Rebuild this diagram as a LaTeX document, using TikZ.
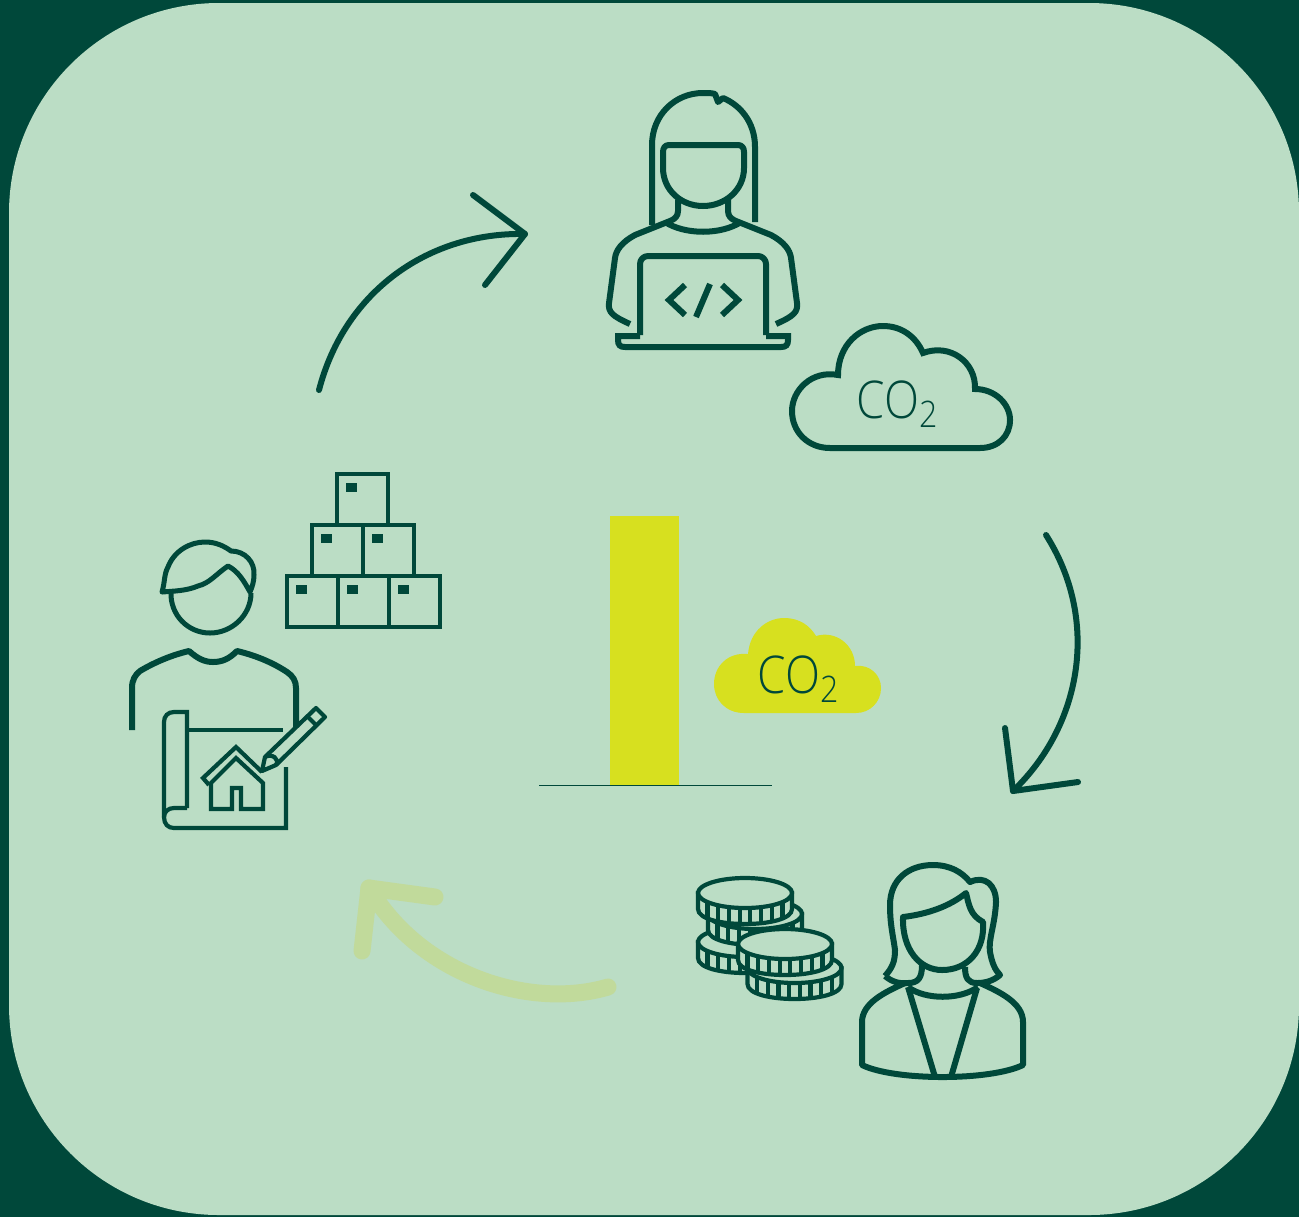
\documentclass[tikz,border=0pt]{standalone}
\usepackage{fontspec}
\usepackage{graphicx}
\usepackage{xcolor}
\usepackage{tikz}
\newfontfamily\lightfont{Open Sans Light}
\definecolor{pine}{HTML}{00483A}
\definecolor{mint}{HTML}{BBDDC5}
\definecolor{lime}{HTML}{D7E01F}
\definecolor{pale}{HTML}{C1DA9B}
\tikzstyle{thickicon}=[draw=pine, line width=0.6mm, line join=round]
\tikzstyle{thinicon}=[draw=pine, line width=0.42mm, line join=miter]
\tikzstyle{flowline}=[draw=pine, line width=0.6mm, line cap=round, line join=round]
\tikzstyle{colabel}=[text=pine, inner sep=0pt, font=\lightfont\fontsize{14.8pt}{16pt}\selectfont]
\newcommand{\cosub}{\scalebox{0.88}[1]{CO\raisebox{-0.95mm}{\fontsize{10.4pt}{11pt}\selectfont 2}}}

\begin{document}
\begin{tikzpicture}[x=0.1mm, y=-0.1mm]

\tikzset{coin/.pic={
    \path[thinicon, fill=mint] (-47,0) -- (-47,16) .. controls (-47,36) and (47,36) .. (47,16) -- (47,0) -- cycle;
    \foreach \dx in {-37.5,-26.7,-16,-5.3,5.3,16,26.7,37.5}
        \draw[thinicon] (\dx,{15*sqrt(1-(\dx/47)^2)}) -- ++(0,16);
    \path[thinicon, fill=mint] (0,0) ellipse [x radius=47, y radius=15];
}}

% Background
\fill[pine] (0,0) rectangle (1299,1217);
\fill[mint, rounded corners=21mm] (9,3) rectangle (1299,1215);

% Flow arrows
\coordinate (plan1) at (319,390);
\coordinate (code0) at (525,234);
\coordinate (code0a) at (473,195);
\coordinate (code0b) at (485,285);
\coordinate (code1) at (1046,535);
\coordinate (fund0) at (1013,791);
\coordinate (fund0a) at (1005,728);
\coordinate (fund0b) at (1078,782);
\coordinate (fund1) at (608,987);
\coordinate (plan0) at (369,888);
\coordinate (plan0a) at (435,897);
\coordinate (plan0b) at (362,951);
\draw[flowline] (plan1) .. controls (345,290) and (430,232) .. (code0);
\draw[flowline] (code0a) -- (code0) -- (code0b);
\draw[flowline] (code1) .. controls (1100,620) and (1082,725) .. (fund0);
\draw[flowline] (fund0a) -- (fund0) -- (fund0b);
\draw[flowline, draw=pale, line width=1.7mm] (fund1) .. controls (530,1010) and (420,975) .. (plan0);
\draw[flowline, draw=pale, line width=1.7mm] (plan0a) -- (plan0) -- (plan0b);

% Bar and base line
\fill[lime] (610,516) rectangle (679,785);
\draw[pine, line width=0.1mm] (539,785) -- (772,785);

% Lime cloud
\fill[lime] (748,654) .. controls (750,630) and (768,618) .. (784,618)
    .. controls (800,618) and (810,626) .. (816,636)
    .. controls (836,630) and (855,645) .. (855,666)
    .. controls (870,664) and (881,675) .. (881,688)
    .. controls (881,702) and (870,713) .. (856,713)
    -- (744,713) .. controls (726,713) and (714,700) .. (714,684)
    .. controls (714,666) and (728,652) .. (748,654) -- cycle;
\node[colabel, anchor=west] (colime) at (757,679) {\cosub};

% Outline cloud
\draw[thickicon, line join=miter] (838,375) .. controls (838,345) and (860,326) .. (883,326)
    .. controls (902,326) and (916,337) .. (923,353)
    .. controls (950,343) and (976,362) .. (975,389)
    .. controls (995,389) and (1010,404) .. (1010,420)
    .. controls (1010,436) and (998,448) .. (980,448)
    -- (830,448) .. controls (808,448) and (792,432) .. (792,411)
    .. controls (792,390) and (812,370) .. (838,375) -- cycle;
\node[colabel, anchor=west] (cooutline) at (856,404) {\cosub};

% Coder
\draw[thickicon] (652,225) -- (652,145) .. controls (652,115) and (675,93) .. (703,93)
    .. controls (708,93) and (712,93) .. (715,94) -- (718,102) -- (723,98)
    .. controls (740,105) and (755,122) .. (755,147) -- (755,222);
\draw[thickicon] (663,168) -- (663,152) .. controls (663,148) and (665,145) .. (669,145)
    -- (738,145) .. controls (742,145) and (744,148) .. (744,152) -- (744,168)
    .. controls (744,190) and (725,206) .. (703,206) .. controls (681,206) and (663,190) .. (663,168) -- cycle;
\draw[thickicon] (678,200) -- (678,211) .. controls (678,216) and (675,219) .. (670,221)
    -- (635,235) .. controls (622,242) and (616,250) .. (615,258) -- (609,303)
    .. controls (608,312) and (612,316) .. (630,324);
\draw[thickicon] (728,200) -- (728,211) .. controls (728,216) and (731,219) .. (736,221)
    -- (771,235) .. controls (784,242) and (790,250) .. (791,258) -- (797,303)
    .. controls (798,312) and (794,316) .. (776,324);
\draw[thickicon] (665,222) .. controls (685,235) and (721,235) .. (741,222);
\draw[thickicon, rounded corners=0.8mm] (640,335) -- (640,256) -- (766,256) -- (766,335);
\draw[thickicon, line join=miter] (640,336) -- (618,336) -- (618,340) .. controls (618,345) and (620,347) .. (625,347)
    -- (781,347) .. controls (786,347) and (788,345) .. (788,340) -- (788,336) -- (766,336);
\draw[thickicon, line join=miter] (685,285) -- (669,300) -- (685,315);
\draw[thickicon] (696,317) -- (710,284);
\draw[thickicon, line join=miter] (722,285) -- (738,300) -- (722,315);

% Boxes
\foreach \bx/\by in {337/474, 312/525, 363/525, 287/576, 338/576, 389/576}{
    \draw[thinicon] (\bx,\by) rectangle ++(51,51);
    \fill[pine] (\bx+9,\by+9) rectangle ++(11,9);
}

% Planner
\draw[line width=0.5mm, draw=pine, line join=round] (171,592) .. controls (170,615) and (188,633) .. (210,633)
    .. controls (232,633) and (251,615) .. (251,593);
\draw[line width=0.5mm, draw=pine, line join=round] (162,592) .. controls (165,582) and (164,574) .. (168,567)
    .. controls (174,551) and (190,542) .. (205,542) .. controls (216,542) and (224,546) .. (231,551)
    .. controls (245,551) and (255,562) .. (254,575) .. controls (254,582) and (252,587) .. (250,592)
    .. controls (244,581) and (238,571) .. (228,566) .. controls (216,574) and (210,583) .. (198,586)
    .. controls (186,591) and (174,591) .. (162,592) -- cycle;
\draw[thickicon] (132,730) -- (132,688) .. controls (132,680) and (135,675) .. (140,671)
    .. controls (155,662) and (172,655) .. (189,651) .. controls (198,659) and (205,662) .. (213,662)
    .. controls (222,662) and (229,659) .. (237,651) .. controls (254,655) and (272,662) .. (287,672)
    .. controls (293,676) and (296,681) .. (296,688) -- (296,727);
\draw[thinicon] (187,808) -- (187,712) -- (174,712) .. controls (168,712) and (164,716) .. (164,722)
    -- (164,817) .. controls (164,824) and (168,828) .. (174,828) -- (286,828) -- (286,767);
\draw[thinicon] (187,808) -- (174,808) .. controls (168,808) and (164,812) .. (164,817);
\draw[thinicon] (187,730) -- (283,730);
\draw[thinicon] (209,785) -- (203,778) -- (236,747) -- (262,772);
\draw[thinicon] (209,785) -- (236,758) -- (263,783) -- (263,809) -- (241,809) -- (241,788) -- (232,788) -- (232,809) -- (211,809) -- (211,783);
\draw[thinicon, line join=round] (262,771) -- (265,757) -- (316,708) -- (325,717) -- (276,765) -- cycle;
\draw[thinicon] (307,716) -- (316,725);
\draw[thinicon] (265,757) .. controls (272,753) and (280,759) .. (276,765);

% Coins
\pic at (745,942) {coin};
\pic at (755,914) {coin};
\pic at (745,893) {coin};
\pic at (794.5,968) {coin};
\pic at (785,944) {coin};

% Funder
\draw[thickicon] (885,976) .. controls (892,968) and (895,962) .. (895,950) .. controls (893,935) and (890,925) .. (890,905)
    .. controls (890,880) and (908,865) .. (933,865) .. controls (950,865) and (962,872) .. (970,882)
    .. controls (985,875) and (996,885) .. (996,902) .. controls (995,925) and (988,940) .. (990,952)
    .. controls (992,963) and (995,970) .. (1000,975) .. controls (993,981) and (985,983) .. (977,983)
    .. controls (968,983) and (965,978) .. (965,967);
\draw[thickicon] (885,976) .. controls (892,982) and (900,984) .. (908,983) .. controls (918,983) and (922,978) .. (922,965);
\draw[thickicon] (903,917) .. controls (928,914) and (950,906) .. (966,893) .. controls (969,905) and (970,915) .. (983,922)
    .. controls (985,950) and (968,970) .. (942,970) .. controls (920,970) and (902,950) .. (903,917) -- cycle;
\draw[thickicon] (908,987) .. controls (925,1000) and (960,1000) .. (978,987);
\draw[thickicon] (905,983) .. controls (885,992) and (862,1003) .. (862,1022) -- (862,1065)
    .. controls (895,1081) and (990,1081) .. (1023,1065) -- (1023,1022) .. controls (1023,1003) and (1000,992) .. (980,983);
\draw[thickicon] (908,987) -- (935,1077);
\draw[thickicon] (977,988) -- (951,1077);

\end{tikzpicture}
\end{document}
